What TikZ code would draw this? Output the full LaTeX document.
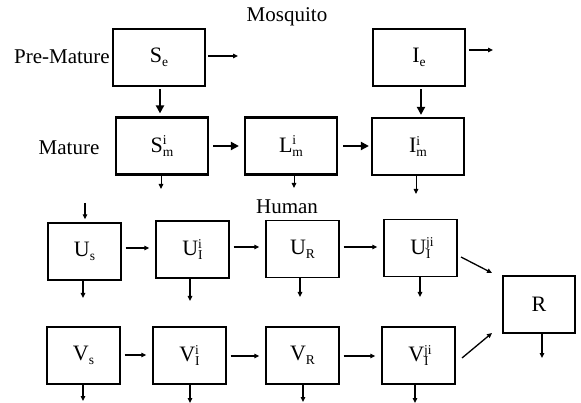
\documentclass[tikz,border=0pt]{standalone}
\usepackage{fontspec}
\setmainfont{Liberation Serif}
\usetikzlibrary{arrows.meta}
\newcommand{\scr}{\fontsize{13.5}{14}\selectfont}
\newcommand{\cmpsb}[2]{#1\raisebox{-4pt}{\scr #2}}
\newcommand{\cmpsp}[3]{#1\rlap{\raisebox{7.5pt}{\scr #2}}\raisebox{-4pt}{\scr #3}}
\begin{document}
\begin{tikzpicture}[x=1pt,y=-1pt,
  mbox/.style={draw, line width=2.2pt, minimum width=92pt, minimum height=57pt, inner sep=0pt, font=\fontsize{22}{24}\selectfont},
  hbox/.style={draw, line width=1.4pt, minimum width=73pt, minimum height=57pt, inner sep=0pt, font=\fontsize{22}{24}\selectfont},
  lbl/.style={font=\fontsize{21}{23}\selectfont, inner sep=0pt},
  thick arr/.style={line width=2pt, -{Triangle[length=8pt,width=8pt]}},
  thin arr/.style={line width=1pt, -{Triangle[length=5pt,width=4.5pt]}},
  hflow/.style={thin arr, line width=1.2pt, shorten <=4pt, shorten >=6pt}]
\useasboundingbox (0,0) rectangle (581,403);
% Mosquito boxes
\node[mbox] (Se) at (159,57.5) {\cmpsb{S}{e}};
\node[mbox] (Ie) at (419,57.5) {\cmpsb{I}{e}};
\node[mbox] (Sm) at (162,146) {\cmpsp{S}{i}{m}};
\node[mbox] (Lm) at (291,146) {\cmpsp{L}{i}{m}};
\node[mbox] (Im) at (418,146.5) {\cmpsp{I}{i}{m}};
% labels
\node[lbl] (mos) at (287,17) {Mosquito};
\node[lbl, anchor=east] (pre) at (110,57) {Pre-Mature};
\node[lbl] (mat) at (69,148) {Mature};
\node[lbl] (hum) at (287,207) {Human};
% Human boxes
\node[hbox] (Us) at (84.5,251.5) {\cmpsb{U}{s}};
\node[hbox] (UI) at (192.5,249.5) {\cmpsp{U}{i}{I}};
\node[hbox] (UR) at (302.5,249) {\cmpsb{U}{R}};
\node[hbox] (UJ) at (420.5,248) {\cmpsp{U}{ji}{I}};
\node[hbox, minimum width=72pt] (R) at (539,304.5) {R};
\node[hbox] (Vs) at (83.5,355.5) {\cmpsb{V}{s}};
\node[hbox] (VI) at (189.5,355.5) {\cmpsp{V}{i}{I}};
\node[hbox] (VR) at (302.5,355.5) {\cmpsb{V}{R}};
\node[hbox] (VJ) at (418.5,355.5) {\cmpsp{V}{ji}{I}};
% coordinates for free ends
\coordinate (SeOut) at (238,56);
\coordinate (IeOut) at (493,50);
\coordinate (SmOut) at (161,189);
\coordinate (LmOut) at (294,188);
\coordinate (ImOut) at (416,194);
\coordinate (UsIn) at (85,203);
\coordinate (UsOut) at (83,298);
\coordinate (UIOut) at (190,301);
\coordinate (UROut) at (300,297);
\coordinate (UJOut) at (420,297);
\coordinate (ROut) at (542,358);
\coordinate (VsOut) at (83,401);
\coordinate (VIOut) at (190,403);
\coordinate (VROut) at (303,402);
\coordinate (VJOut) at (415,403);
% mosquito arrows
\draw[thick arr, shorten <=2pt, shorten >=3pt] (Se.south -| 160,0) -- (Sm.north -| 160,0);
\draw[thick arr, shorten <=2pt, shorten >=2pt] (Ie.south -| 421,0) -- (Im.north -| 421,0);
\draw[thick arr, shorten <=4pt, shorten >=5pt] (Sm.east) -- (Sm.east -| Lm.west);
\draw[thick arr, shorten <=5pt, shorten >=2pt] (Lm.east) -- (Lm.east -| Im.west);
\draw[thin arr, line width=1.3pt, shorten <=2pt] (Se.east |- SeOut) -- (SeOut);
\draw[thin arr, line width=1.3pt, shorten <=3pt] (Ie.east |- IeOut) -- (IeOut);
\draw[thin arr] (Sm.south -| SmOut) -- (SmOut);
\draw[thin arr] (Lm.south -| LmOut) -- (LmOut);
\draw[thin arr] (Im.south -| ImOut) -- (ImOut);
% human arrows
\draw[thin arr, line width=1.3pt, shorten >=3pt] (UsIn) -- (UsIn |- Us.north);
\draw[hflow] (Us.east |- 0,248) -- (UI.west |- 0,248);
\draw[hflow] (UI.east |- 0,247) -- (UR.west |- 0,247);
\draw[hflow] (UR.east |- 0,247) -- (UJ.west |- 0,247);
\draw[hflow] (Vs.east |- 0,355) -- (VI.west |- 0,355);
\draw[hflow] (VI.east |- 0,356) -- (VR.west |- 0,356);
\draw[hflow] (VR.east |- 0,356) -- (VJ.west |- 0,356);
\draw[thin arr, line width=1.3pt] (461,257) -- (492,273);
\draw[thin arr, line width=1.3pt] (462,358) -- (492,333);
\draw[thin arr, line width=1.3pt] (Us.south -| UsOut) -- (UsOut);
\draw[thin arr, line width=1.3pt] (UI.south -| UIOut) -- (UIOut);
\draw[thin arr, line width=1.3pt] (UR.south -| UROut) -- (UROut);
\draw[thin arr, line width=1.3pt] (UJ.south -| UJOut) -- (UJOut);
\draw[thin arr, line width=1.3pt] (R.south -| ROut) -- (ROut);
\draw[thin arr, line width=1.3pt] (Vs.south -| VsOut) -- (VsOut);
\draw[thin arr, line width=1.3pt] (VI.south -| VIOut) -- (VIOut);
\draw[thin arr, line width=1.3pt] (VR.south -| VROut) -- (VROut);
\draw[thin arr, line width=1.3pt] (VJ.south -| VJOut) -- (VJOut);
\end{tikzpicture}
\end{document}
